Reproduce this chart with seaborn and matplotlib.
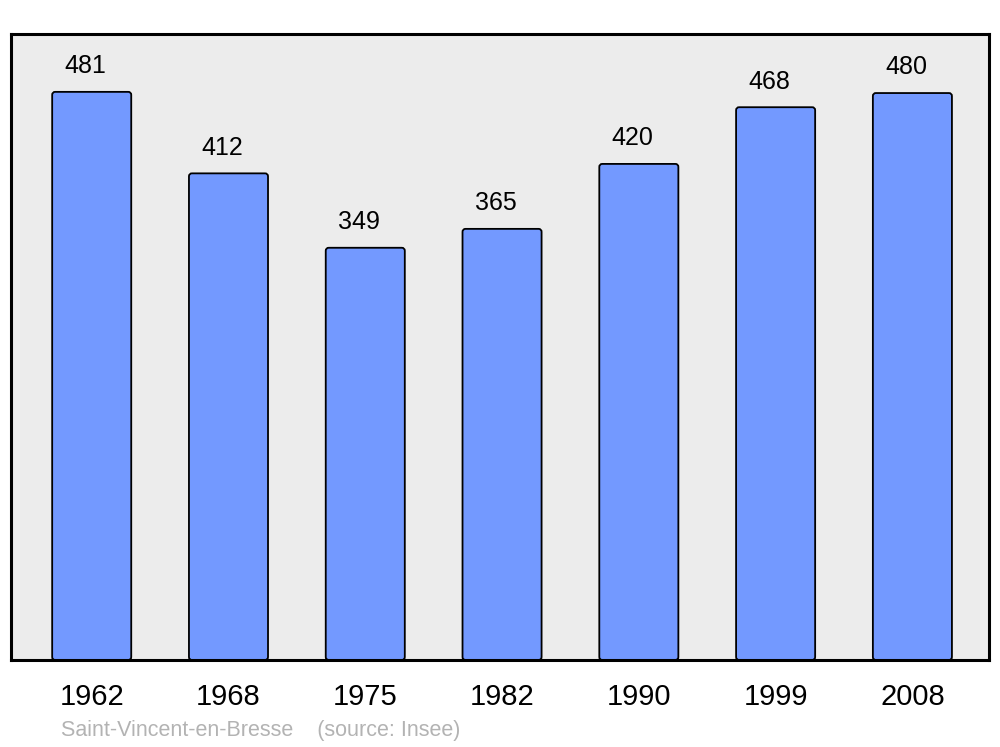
import matplotlib
matplotlib.use("Agg")
import matplotlib.pyplot as plt
from matplotlib.patches import FancyBboxPatch
import seaborn as sns
import pandas as pd

years = ["1962", "1968", "1975", "1982", "1990", "1999", "2008"]
population = [481, 412, 349, 365, 420, 468, 480]
caption = "Saint-Vincent-en-Bresse    (source: Insee)"

sns.set_style("white")
plt.rcParams["font.family"] = ["Liberation Sans", "DejaVu Sans"]

df = pd.DataFrame({"year": years, "pop": population})

fig = plt.figure(figsize=(10, 7.47), dpi=100)
ax = fig.add_axes([0.011, 0.1165, 0.978, 0.838])
ax.set_facecolor("#ececec")

sns.barplot(data=df, x="year", y="pop", ax=ax, color="#7399ff", saturation=1,
            width=0.578, edgecolor="black", linewidth=1.3)

ax.set_xlim(-0.59, 6.56)
ax.set_ylim(0, 530)
ax.set_xlabel("")
ax.set_ylabel("")
ax.set_yticks([])
ax.tick_params(axis="x", length=0, pad=16.8, labelsize=21, labelcolor="black")
for lbl in ax.get_xticklabels():
    lbl.set_x(lbl.get_position()[0])

# round the bar corners slightly, keeping the geometry seaborn computed
x_per_px = (6.56 + 0.59) / 978.0
y_per_px = 530.0 / 626.0
for p in list(ax.patches):
    x, y = p.get_x(), p.get_y()
    w, h = p.get_width(), p.get_height()
    fb = FancyBboxPatch((x, y), w, h,
                        boxstyle=f"round,pad=0,rounding_size={3 * x_per_px}",
                        mutation_aspect=y_per_px / x_per_px,
                        facecolor=p.get_facecolor(), edgecolor="black",
                        linewidth=1.3, zorder=p.get_zorder())
    p.set_visible(False)
    ax.add_patch(fb)

for spine in ax.spines.values():
    spine.set_visible(True)
    spine.set_color("black")
    spine.set_linewidth(2.2)
    spine.set_zorder(5)

for i, v in enumerate(population):
    ax.annotate(str(v), xy=(i, v), xytext=(-4.5, 18.5), textcoords="offset points",
                ha="center", va="center", fontsize=18, color="black")

fig.text(0.061, 0.0225, caption, ha="left", va="center", fontsize=15.5, color="#b3b3b3")

fig.savefig("out.png", dpi=100)
